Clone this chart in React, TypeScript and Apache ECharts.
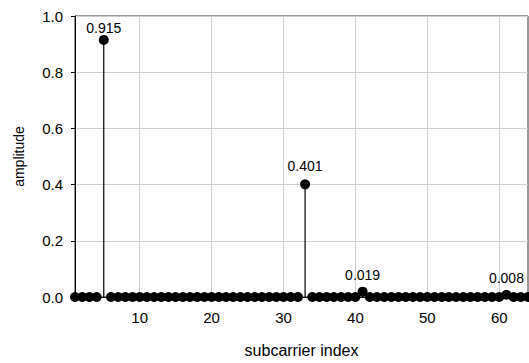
import React, { useEffect, useRef } from "react";
import * as echarts from "echarts";

const indices: number[] = Array.from({ length: 64 }, (_, i) => i + 1);
const peakIdx: number[] = [5, 33, 41, 61];
const peakVal: number[] = [0.915, 0.401, 0.019, 0.008];
const peakLabels: string[] = ["0.915", "0.401", "0.019", "0.008"];
const labelGaps: number[] = [0, 6, 5, 5];
const xTicks: number[] = [10, 20, 30, 40, 50, 60];

export default function App() {
  const ref = useRef<HTMLDivElement>(null);
  useEffect(() => {
    if (!ref.current) return;
    const chart = echarts.init(ref.current, null, { renderer: "svg" });
    const amp = indices.map((i) => {
      const k = peakIdx.indexOf(i);
      return k >= 0 ? peakVal[k] : 0;
    });
    const font = "'Liberation Sans', Arial, sans-serif";
    const scatterData = indices.map((i, n) => {
      const k = peakIdx.indexOf(i);
      if (k >= 0) {
        return {
          value: [i, amp[n]],
          label: {
            show: true,
            position: "top",
            distance: labelGaps[k],
            formatter: peakLabels[k],
            color: "#000",
            fontSize: 14,
            fontFamily: font,
          },
        };
      }
      return { value: [i, amp[n]] };
    });
    chart.setOption({
      animation: false,
      grid: {
        left: 75,
        right: 1,
        top: 16,
        bottom: 57,
        show: true,
        borderColor: "#333",
        borderWidth: 1,
      },
      xAxis: {
        type: "value",
        min: 1,
        max: 64,
        name: "subcarrier index",
        nameLocation: "middle",
        nameGap: 45,
        nameTextStyle: { fontSize: 16, color: "#000", fontFamily: font },
        axisLine: { show: true, lineStyle: { color: "#000", width: 1 } },
        axisTick: { show: false, customValues: xTicks },
        axisLabel: {
          customValues: xTicks,
          fontSize: 15,
          color: "#000",
          fontFamily: font,
          margin: 13,
        },
        splitLine: { show: true, lineStyle: { color: "#cfcfcf", width: 1 } },
      },
      yAxis: {
        type: "value",
        min: 0,
        max: 1,
        interval: 0.2,
        name: "amplitude",
        nameLocation: "middle",
        nameGap: 49,
        nameTextStyle: { fontSize: 14, color: "#000", fontFamily: font },
        axisLine: { show: true, lineStyle: { color: "#000", width: 1 } },
        axisTick: { show: true, length: 4, lineStyle: { color: "#000" } },
        axisLabel: {
          fontSize: 15,
          color: "#000",
          fontFamily: font,
          margin: 12,
          formatter: (v: number) => v.toFixed(1),
        },
        splitLine: { show: true, lineStyle: { color: "#cfcfcf", width: 1 } },
      },
      series: [
        {
          type: "custom",
          data: indices.map((i, n) => [i, amp[n]]),
          renderItem: (params: any, api: any) => {
            const p0 = api.coord([api.value(0), 0]);
            const p1 = api.coord([api.value(0), api.value(1)]);
            return {
              type: "line",
              shape: { x1: p0[0], y1: p0[1], x2: p1[0], y2: p1[1] },
              style: { stroke: "#000", lineWidth: 1.2 },
            };
          },
          silent: true,
          z: 2,
        },
        {
          type: "scatter",
          data: scatterData,
          symbol: "circle",
          symbolSize: 10,
          itemStyle: { color: "#000", opacity: 1 },
          z: 3,
        },
      ],
    });
    return () => chart.dispose();
  }, []);
  return (
    <div
      ref={ref}
      style={{ position: "absolute", left: 0, top: 0, width: 529, height: 363 }}
    />
  );
}
